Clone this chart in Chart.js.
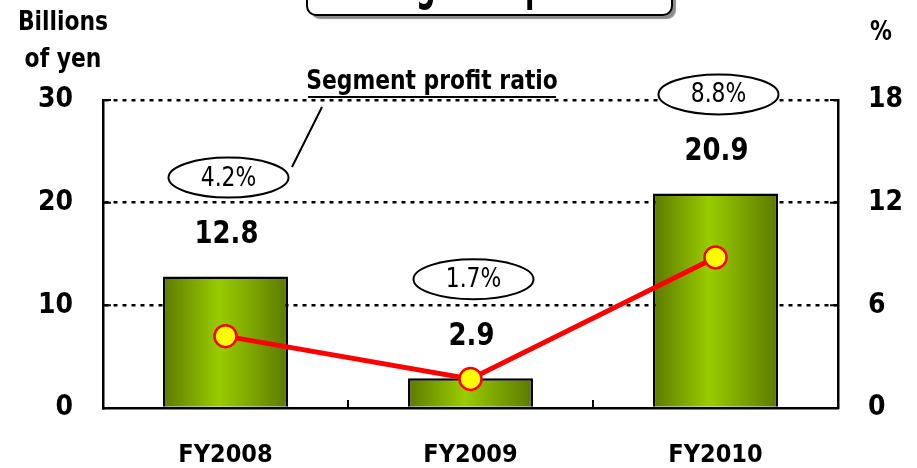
<!DOCTYPE html>
<html>
<head>
<meta charset="utf-8">
<script src="https://cdn.jsdelivr.net/npm/chart.js@4"></script>
<style>
  html, body { margin: 0; padding: 0; background: #fff; }
  #wrap { width: 917px; height: 468px; }
</style>
</head>
<body>
<div id="wrap"><canvas id="segChart" width="917" height="468"></canvas></div>
<script>
// chart data
const years = ['FY2008', 'FY2009', 'FY2010'];
const profit = [12.8, 2.9, 20.9];          // billions of yen
const profitRatio = [4.2, 1.7, 8.8];       // %
const leftTicks = [0, 10, 20, 30];
const rightTicks = [0, 6, 12, 18];

const FONT = "'Liberation Sans Narrow', 'DejaVu Sans Condensed', 'Liberation Sans', sans-serif";

// horizontal gradient for each bar (dark olive edges, bright green middle)
function barFill(c) {
    const chart = c.chart;
    const xs = chart.scales.x;
    if (!xs || !chart.chartArea) return '#99cc00';
    const cx = xs.getPixelForValue(c.dataIndex);
    const half = (xs.width / years.length) * 0.51 / 2;
    const g = chart.ctx.createLinearGradient(cx - half, 0, cx + half, 0);
    g.addColorStop(0, '#5c7a00');
    g.addColorStop(0.45, '#99cc00');
    g.addColorStop(1, '#5c7a00');
    return g;
}

// text squeezed a little to look like the narrow font of the original
function txt(ctx, s, x, y, size, bold, sx) {
    sx = sx || 0.9;
    ctx.save();
    ctx.font = (bold ? 'bold ' : '') + size + 'px ' + FONT;
    ctx.translate(x, y);
    ctx.scale(sx, 1);
    ctx.fillText(s, 0, 0);
    ctx.restore();
}

// extra drawing: title box, unit labels, value labels, ellipses, callout, inner ticks
const extras = {
    id: 'extras',
    beforeDatasetsDraw(chart) {
        const ctx = chart.ctx;
        const area = chart.chartArea;
        const ys = chart.scales.y;
        const xs = chart.scales.x;
        ctx.save();
        ctx.strokeStyle = '#000';
        ctx.lineWidth = 2;
        // short inner tick marks on both value axes
        leftTicks.forEach(v => {
            const py = ys.getPixelForValue(v);
            ctx.beginPath();
            ctx.moveTo(area.left, py); ctx.lineTo(area.left + 8, py);
            ctx.moveTo(area.right, py); ctx.lineTo(area.right - 8, py);
            ctx.stroke();
        });
        // category boundary ticks on the x axis
        const step = xs.width / years.length;
        for (let i = 1; i < years.length; i++) {
            const px = area.left + i * step;
            ctx.beginPath();
            ctx.moveTo(px, area.bottom); ctx.lineTo(px, area.bottom - 8);
            ctx.stroke();
        }
        ctx.restore();
    },
    afterDraw(chart) {
        const ctx = chart.ctx;
        const ys = chart.scales.y;
        const xs = chart.scales.x;
        ctx.save();

        // title box, mostly cut off at the top
        ctx.save();
        ctx.shadowColor = 'rgba(0,0,0,0.45)';
        ctx.shadowOffsetX = 4;
        ctx.shadowOffsetY = 4;
        ctx.shadowBlur = 1;
        ctx.fillStyle = '#fff';
        ctx.beginPath();
        ctx.roundRect(307, -40, 365, 55, 9);
        ctx.fill();
        ctx.restore();
        ctx.strokeStyle = '#000';
        ctx.lineWidth = 2;
        ctx.beginPath();
        ctx.roundRect(307, -40, 365, 55, 9);
        ctx.stroke();
        ctx.fillStyle = '#000';
        ctx.textBaseline = 'alphabetic';
        ctx.textAlign = 'left';
        ctx.font = 'bold 52px ' + FONT;
        const wSe = ctx.measureText('Se').width;
        const wSeg = ctx.measureText('Segment ').width;
        const sxT = 109 / (wSeg - wSe);
        txt(ctx, 'Segment profit', 416 - wSe * sxT, -1, 52, true, sxT);

        // unit labels
        ctx.textAlign = 'center';
        ctx.textBaseline = 'middle';
        txt(ctx, 'Billions', 63, 23, 27, true);
        txt(ctx, 'of yen', 63, 60, 27, true);
        txt(ctx, '%', 881, 33, 27, true);

        // value labels and ratio ellipses
        profit.forEach((v, i) => {
            const cx = xs.getPixelForValue(i);
            const labelY = ys.getPixelForValue(v) - 42;
            ctx.fillStyle = '#000';
            txt(ctx, v.toFixed(1), cx + 1, labelY, 32, true);

            const ey = labelY - 57;
            const ex = cx + 3;
            ctx.fillStyle = '#fff';
            ctx.beginPath();
            ctx.ellipse(ex, ey, 60, 20, 0, 0, Math.PI * 2);
            ctx.fill();
            ctx.lineWidth = 2;
            ctx.stroke();
            ctx.fillStyle = '#000';
            txt(ctx, profitRatio[i].toFixed(1) + '%', ex, ey + 1, 27, false);
        });

        // callout for the line
        txt(ctx, 'Segment profit ratio', 432, 82, 27, true);
        ctx.lineWidth = 2;
        ctx.beginPath();
        ctx.moveTo(308, 97); ctx.lineTo(556, 97);
        ctx.moveTo(322, 107); ctx.lineTo(292, 167);
        ctx.stroke();
        ctx.restore();
    }
};

new Chart(document.getElementById('segChart'), {
    type: 'bar',
    data: {
        labels: years,
        datasets: [{
            type: 'line',
            data: profitRatio,
            yAxisID: 'y1',
            borderColor: '#ff0000',
            borderWidth: 5,
            pointRadius: 11,
            pointBackgroundColor: '#ffff00',
            pointBorderColor: '#ff0000',
            pointBorderWidth: 2.5,
            order: 0
        }, {
            data: profit,
            yAxisID: 'y',
            backgroundColor: barFill,
            borderColor: '#000',
            borderWidth: 2.5,
            barPercentage: 0.51,
            categoryPercentage: 1,
            order: 1
        }]
    },
    options: {
        responsive: false,
        animation: false,
        layout: { padding: { top: 100 } },
        plugins: { legend: { display: false }, tooltip: { enabled: false } },
        scales: {
            x: {
                grid: { display: false },
                border: { color: '#000', width: 2.5 },
                ticks: { color: '#000', padding: 24, font: { family: FONT, size: 25, weight: 'bold' } },
                afterFit(s) { s.height = 60; }
            },
            y: {
                position: 'left',
                min: 0, max: 30,
                afterBuildTicks(s) { s.ticks = leftTicks.map(v => ({ value: v })); },
                grid: {
                    drawTicks: false,
                    color: c => c.tick.value === 0 ? 'rgba(0,0,0,0)' : '#000',
                    lineWidth: 2.5
                },
                border: { color: '#000', width: 2.5, dash: [4, 5] },
                ticks: { color: '#000', padding: 30, font: { family: FONT, size: 28, weight: 'bold' } },
                afterFit(s) { s.width = 103; }
            },
            y1: {
                position: 'right',
                min: 0, max: 18,
                afterBuildTicks(s) { s.ticks = rightTicks.map(v => ({ value: v })); },
                grid: { drawOnChartArea: false, drawTicks: false },
                border: { color: '#000', width: 2.5 },
                ticks: { color: '#000', padding: 30, font: { family: FONT, size: 28, weight: 'bold' } },
                afterFit(s) { s.width = 79; }
            }
        }
    },
    plugins: [extras]
});
</script>
</body>
</html>
